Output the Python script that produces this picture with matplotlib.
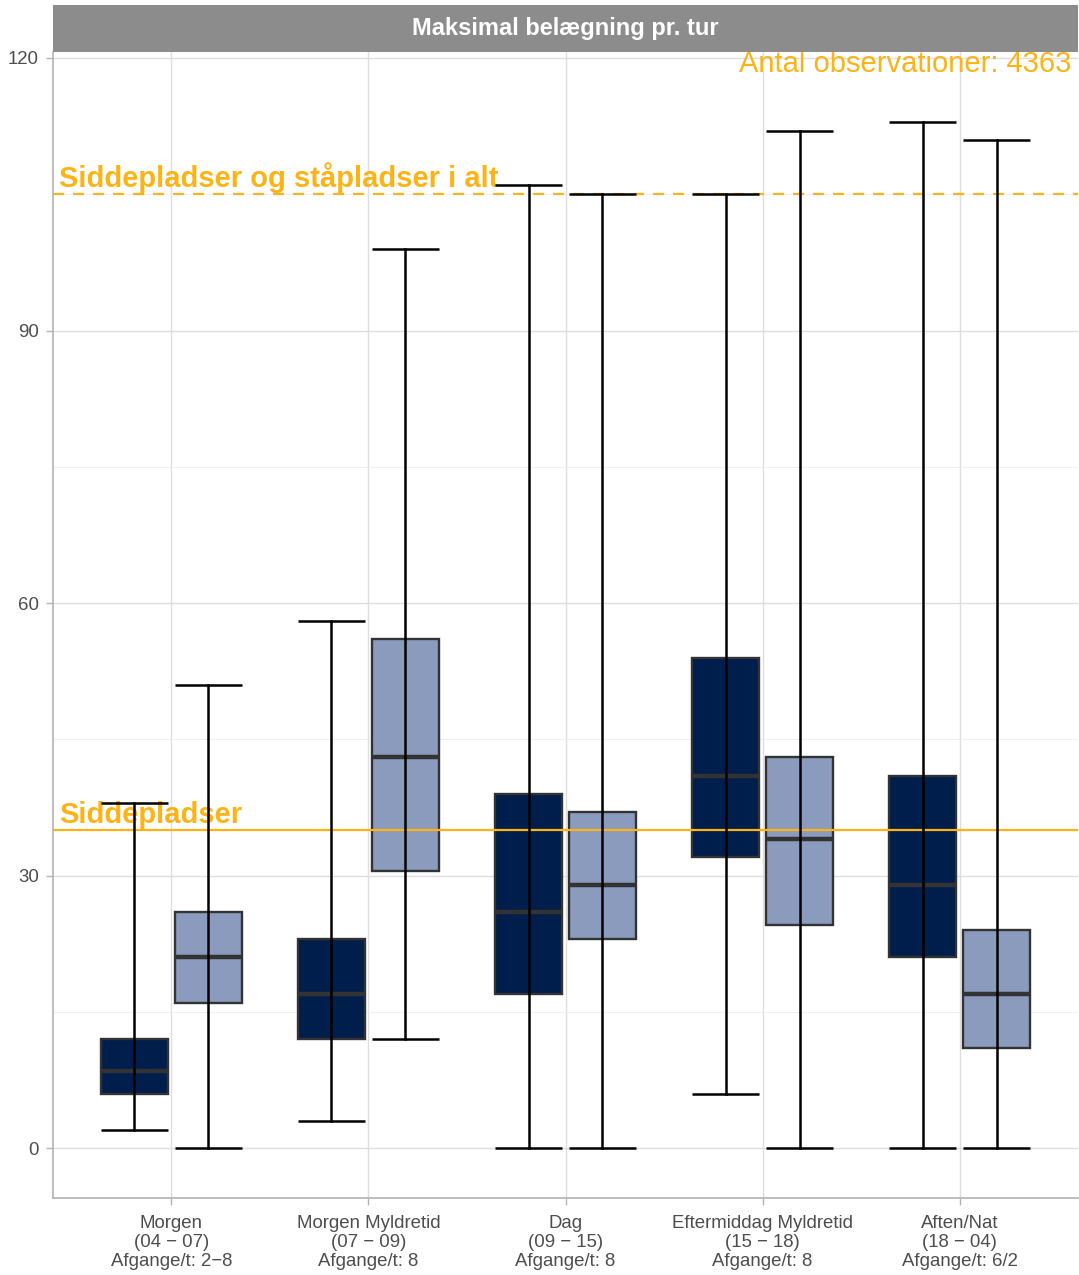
import numpy as np
import matplotlib
matplotlib.use("Agg")
import matplotlib.pyplot as plt
from matplotlib.patches import Rectangle

plt.rcParams['font.family'] = ['Liberation Sans', 'DejaVu Sans']

# data
categories = ["Morgen\n(04 \u2212 07)\nAfgange/t: 2\u22128",
              "Morgen Myldretid\n(07 \u2212 09)\nAfgange/t: 8",
              "Dag\n(09 \u2212 15)\nAfgange/t: 8",
              "Eftermiddag Myldretid\n(15 \u2212 18)\nAfgange/t: 8",
              "Aften/Nat\n(18 \u2212 04)\nAfgange/t: 6/2"]

# series 1 (dark) and series 2 (light): min, q1, median, q3, max
dark_min = [2, 3, 0, 6, 0]
dark_q1 = [6, 12, 17, 32, 21]
dark_med = [8.5, 17, 26, 41, 29]
dark_q3 = [12, 23, 39, 54, 41]
dark_max = [38, 58, 106, 105, 113]

light_min = [0, 12, 0, 0, 0]
light_q1 = [16, 30.5, 23, 24.5, 11]
light_med = [21, 43, 29, 34, 17]
light_q3 = [26, 56, 37, 43, 24]
light_max = [51, 99, 105, 112, 111]

seats = 35
seats_total = 105
n_obs = 4363

orange = "#FCB316"
dark_col = "#001E4B"
light_col = "#8A9BBD"

W, H = 1079, 1275
fig = plt.figure(figsize=(W / 100, H / 100), dpi=100)
ax = fig.add_axes([53 / W, (H - 1198) / H, (1078 - 53) / W, (1198 - 52) / H])

x = np.arange(len(categories))
off = 0.1875
bw = 0.34


def draw_boxes(pos, mn, q1, med, q3, mx, col):
    for p, a, b, c, d, e in zip(pos, mn, q1, med, q3, mx):
        ax.add_patch(Rectangle((p - bw / 2, b), bw, d - b, facecolor=col,
                               edgecolor="#333333", lw=1.7, zorder=3))
        ax.plot([p - bw / 2, p + bw / 2], [c, c], color="#333333", lw=3.2,
                zorder=4, solid_capstyle="butt")
        ax.plot([p, p], [a, e], color="black", lw=1.8, zorder=6)
        for v in (a, e):
            ax.plot([p - bw / 2, p + bw / 2], [v, v], color="black", lw=1.8,
                    zorder=6, solid_capstyle="butt")


draw_boxes(x - off, dark_min, dark_q1, dark_med, dark_q3, dark_max, dark_col)
draw_boxes(x + off, light_min, light_q1, light_med, light_q3, light_max, light_col)

ax.axhline(seats, color=orange, lw=1.6, zorder=5)
ax.axhline(seats_total, color=orange, lw=1.6, ls=(0, (5, 4)), zorder=5)

ax.text(-0.57, seats + 0.77, "Siddepladser", color=orange, fontsize=21,
        fontweight="bold", va="baseline", ha="left", zorder=5)
ax.text(-0.57, seats_total + 0.77, "Siddepladser og ståpladser i alt",
        color=orange, fontsize=21, fontweight="bold", va="baseline", ha="left",
        zorder=5)
ax.text(2.88, 118.5, f"Antal observationer: {n_obs}", color=orange,
        fontsize=21, va="baseline", ha="left", clip_on=False, zorder=5)

ax.set_xlim(-0.6, 4.6)
ax.set_ylim(-5.5, 120.66)
ax.set_yticks([0, 30, 60, 90, 120])
ax.set_yticks([15, 45, 75, 105], minor=True)
ax.set_xticks(x)
ax.set_xticklabels(categories, linespacing=1.17)
ax.grid(True, which="major", color="#DEDEDE", lw=1.0, zorder=0)
ax.grid(True, which="minor", axis="y", color="#EDEDED", lw=0.6, zorder=0)
ax.set_axisbelow(True)
ax.tick_params(axis="both", which="major", colors="#B3B3B3", length=5,
               width=1, labelsize=13.4, labelcolor="#4D4D4D")
ax.tick_params(axis="x", which="major", pad=7)
ax.tick_params(axis="y", which="major", pad=5)
ax.tick_params(axis="both", which="minor", length=0)
for s in ["top", "right"]:
    ax.spines[s].set_visible(False)
for s in ["left", "bottom"]:
    ax.spines[s].set_color("#B3B3B3")
    ax.spines[s].set_linewidth(1.2)

# facet strip
sax = fig.add_axes([53 / W, (H - 52) / H, (1078 - 53) / W, 47 / H])
sax.set_facecolor("#8C8C8C")
sax.set_xticks([])
sax.set_yticks([])
for s in sax.spines.values():
    s.set_visible(False)
sax.text(0.5, 0.5, "Maksimal belægning pr. tur", color="white", fontsize=17,
         fontweight="bold", ha="center", va="center", transform=sax.transAxes)

fig.savefig("out.png", dpi=100)
